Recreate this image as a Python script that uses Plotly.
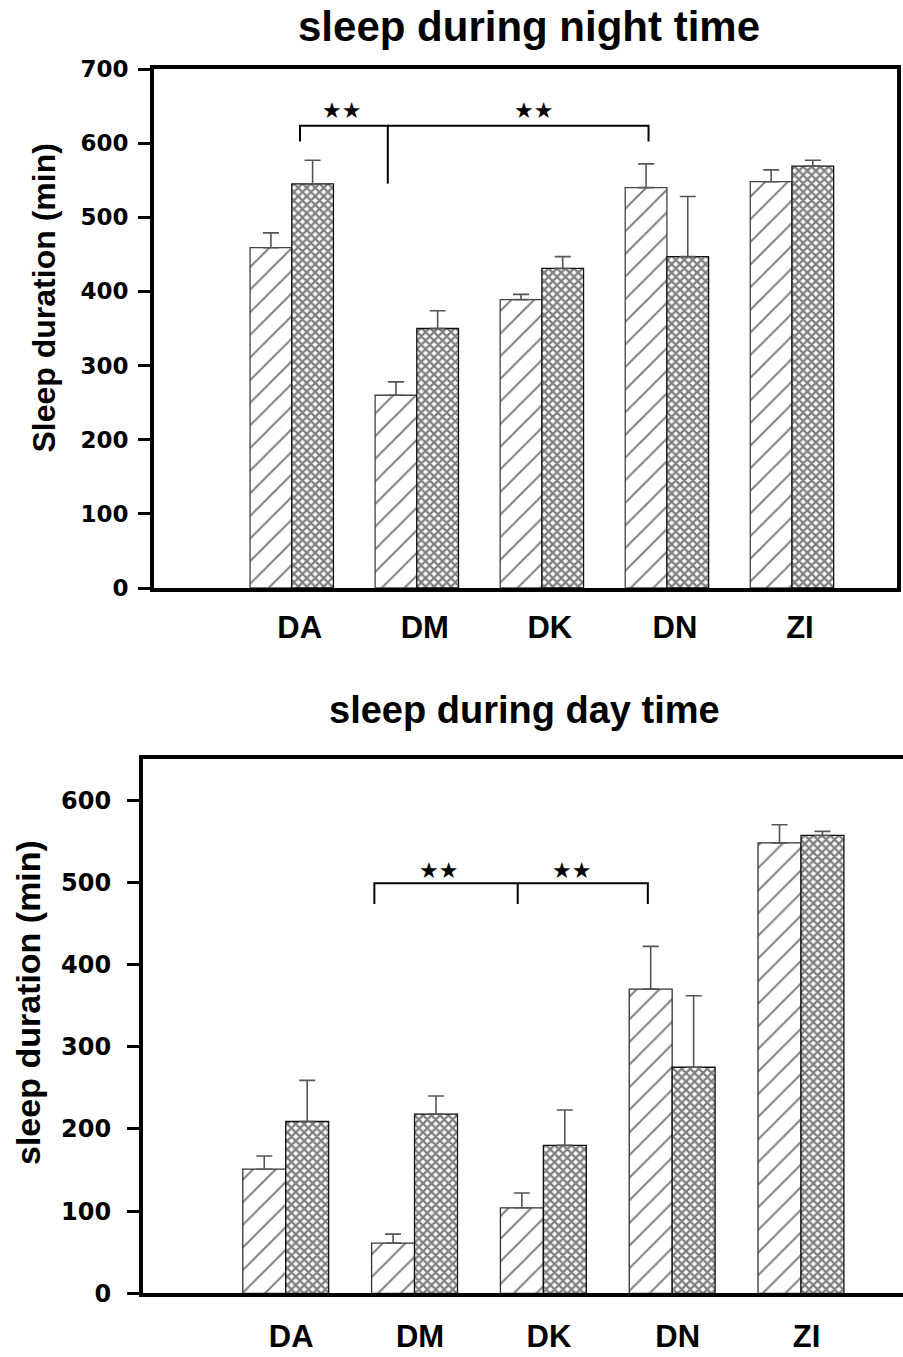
import plotly.graph_objects as go

# ---------------- data ----------------
categories = ["DA", "DM", "DK", "DN", "ZI"]

night_hatched = [459, 260, 389, 540, 548]
night_hatched_err = [20, 18, 7, 32, 16]
night_cross = [545, 350, 431, 447, 569]
night_cross_err = [32, 24, 16, 81, 8]

day_hatched = [151, 61, 104, 370, 548]
day_hatched_err = [16, 11, 18, 52, 22]
day_cross = [209, 218, 180, 275, 557]
day_cross_err = [50, 22, 43, 87, 5]

night_ticks = [0, 100, 200, 300, 400, 500, 600, 700]
day_ticks = [0, 100, 200, 300, 400, 500, 600]

positions = list(range(1, len(categories) + 1))

W, H = 903, 1357
FONT = "Liberation Sans, Arial, sans-serif"
TICKFONT = "DejaVu Sans, Liberation Sans, sans-serif"


def px_x(p):
    return p / W


def px_y(p):
    return 1 - p / H


hatch = dict(shape="/", fgcolor="black", bgcolor="white", size=16, solidity=0.12)
cross = dict(shape="x", fgcolor="black", bgcolor="white", size=6, solidity=0.62)


def bars(y, err, pattern, xa, ya, outline):
    return go.Bar(
        x=positions, y=y, xaxis=xa, yaxis=ya,
        marker=dict(color="white", pattern=pattern, line=dict(color=outline, width=1.3)),
        error_y=dict(type="data", array=err, arrayminus=[0] * len(err), symmetric=False,
                     color="#555555", thickness=1.6, width=8),
        showlegend=False, hoverinfo="skip",
    )


fig = go.Figure()
fig.add_trace(bars(night_hatched, night_hatched_err, hatch, "x", "y", "#444444"))
fig.add_trace(bars(night_cross, night_cross_err, cross, "x", "y", "#111111"))
fig.add_trace(bars(day_hatched, day_hatched_err, hatch, "x2", "y2", "#333333"))
fig.add_trace(bars(day_cross, day_cross_err, cross, "x2", "y2", "#111111"))

axis_common = dict(showgrid=False, zeroline=False, linecolor="black", linewidth=4, automargin=False)

fig.update_layout(
    width=W, height=H,
    margin=dict(l=0, r=0, t=0, b=0, pad=0, autoexpand=False),
    paper_bgcolor="white", plot_bgcolor="white",
    barmode="group", bargap=1 / 3, bargroupgap=0,
    showlegend=False,
    xaxis=dict(domain=[px_x(154), px_x(897)], range=[-0.1016, 5.84], anchor="y",
               tickvals=[p + 0.064 for p in positions], ticktext=categories,
               ticks="", mirror=True, showline=True, ticklabelstandoff=9,
               tickfont=dict(family=FONT, size=31, color="black", weight="bold"),
               **axis_common),
    yaxis=dict(domain=[px_y(588), px_y(69)], range=[0, 700], anchor="x",
               tickvals=night_ticks, ticks="outside", ticklen=12, tickwidth=3, tickcolor="black",
               mirror=True, showline=True, ticklabelstandoff=5,
               tickfont=dict(family=TICKFONT, size=23, color="black", weight="bold"),
               **axis_common),
    xaxis2=dict(domain=[px_x(143), 1.0], range=[-0.108, 5.792], anchor="y2",
                tickvals=[p + 0.043 for p in positions], ticktext=categories,
                ticks="", mirror=True, showline=True, ticklabelstandoff=12,
                tickfont=dict(family=FONT, size=31, color="black", weight="bold"),
                **axis_common),
    yaxis2=dict(domain=[px_y(1293.3), px_y(759)], range=[0, 650], anchor="x2",
                tickvals=day_ticks, ticks="outside", ticklen=12, tickwidth=3, tickcolor="black",
                mirror=False, showline=True, ticklabelstandoff=11,
                tickfont=dict(family=TICKFONT, size=24, color="black", weight="bold"),
                **axis_common),
)

# significance brackets
br = dict(color="black", width=2)
fig.add_shape(type="path", xref="x", yref="y",
              path="M 1.066,602.3 L 1.066,623.4 L 3.853,623.4 L 3.853,602.3", line=br)
fig.add_shape(type="line", xref="x", yref="y", x0=1.768, x1=1.768, y0=623.4, y1=545.5, line=br)
fig.add_shape(type="path", xref="x2", yref="y2",
              path="M 1.688,473.6 L 1.688,498.8 L 3.811,498.8 L 3.811,473.6", line=br)
fig.add_shape(type="line", xref="x2", yref="y2", x0=2.801, x1=2.801, y0=498.8, y1=473.6, line=br)

stars = dict(family="DejaVu Sans", size=22, color="black")
for xs in (1.4, 2.933):
    fig.add_annotation(x=xs, y=644.6, xref="x", yref="y", text="★★", showarrow=False, font=stars,
                       xanchor="center", yanchor="middle")
for xs in (2.185, 3.215):
    fig.add_annotation(x=xs, y=514, xref="x2", yref="y2", text="★★", showarrow=False, font=stars,
                       xanchor="center", yanchor="middle")

# titles
ann = dict(xref="paper", yref="paper", showarrow=False, xanchor="center", yanchor="middle")
fig.add_annotation(x=px_x(529), y=px_y(27), text="<b>sleep during night time</b>",
                   font=dict(family=FONT, size=42, color="black"), **ann)
fig.add_annotation(x=px_x(524), y=px_y(710), text="<b>sleep during day time</b>",
                   font=dict(family=FONT, size=38, color="black"), **ann)
fig.add_annotation(x=px_x(43), y=px_y(298.5), textangle=-90, text="<b>Sleep duration (min)</b>",
                   font=dict(family=FONT, size=32, color="black"), **ann)
fig.add_annotation(x=px_x(28), y=px_y(1003), textangle=-90, text="<b>sleep duration (min)</b>",
                   font=dict(family=FONT, size=34, color="black"), **ann)

fig.write_html("out.html")
